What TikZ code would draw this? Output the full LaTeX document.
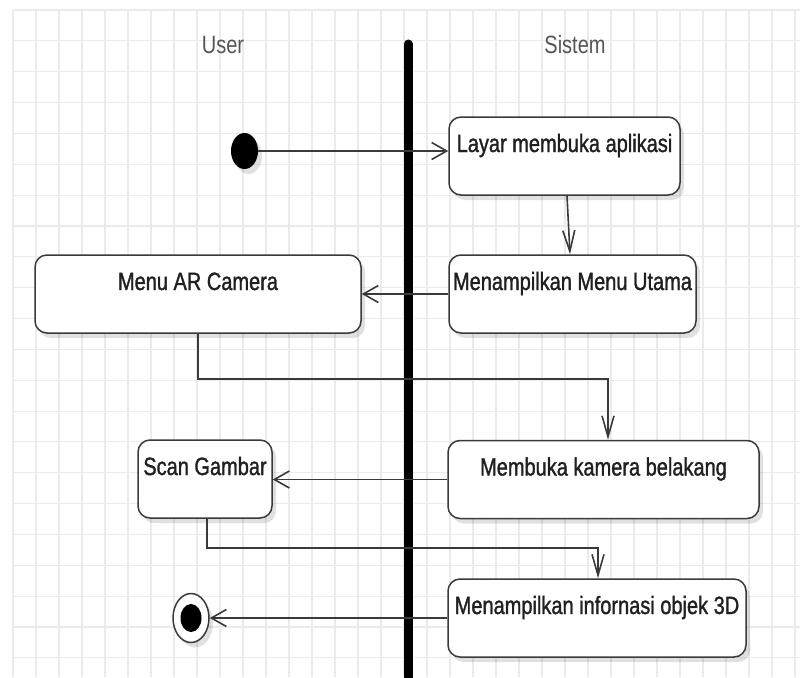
\documentclass[tikz,border=0pt]{standalone}
\usepackage{fontspec}
\setmainfont{Liberation Sans}[FakeStretch=0.8]
\newfontface\boxfont{Liberation Sans}[FakeStretch=0.8,FakeBold=1.2]
\usetikzlibrary{arrows.meta,shadows,calc,shapes.geometric}
\definecolor{gridc}{HTML}{EBEBEB}
\definecolor{linec}{HTML}{3A3A3A}
\definecolor{lanec}{HTML}{555555}
\definecolor{boxtext}{HTML}{202020}
\begin{document}
\begin{tikzpicture}[x=1pt,y=-1pt,
  actbox/.style={draw=linec, line width=1.5pt, fill=white, rounded corners=12pt,
    inner xsep=0pt, inner ysep=0pt, text height=35pt, text depth=43pt,
    font=\boxfont\fontsize{25}{30}\selectfont, text=boxtext,
    drop shadow={shadow xshift=4pt, shadow yshift=-5pt, opacity=0.12, fill=black}},
  lanelabel/.style={font=\fontsize{25}{30}\selectfont, text=lanec},
  flow/.style={draw=linec, line width=1.6pt},
  harrow/.style={flow, -{Straight Barb[length=15pt,width=17pt,line width=1.6pt]}},
  varrow/.style={flow, -{Straight Barb[length=21pt,width=12pt,line width=1.6pt]}},
  gridline/.style={draw=gridc, line width=1.1pt}
]
\useasboundingbox (0,0) rectangle (802,677);
\fill[white] (0,0) rectangle (802,677);
% grid
\foreach \k in {0,...,34} { \draw[gridline] ({13+23*\k},10) -- ({13+23*\k},677); }
\foreach \k in {0,...,21} { \draw[gridline] (13,{10+30.85*\k}) -- (800,{10+30.85*\k}); }

% swimlane labels and divider
\node[lanelabel] (user) at (223,45) {User};
\node[lanelabel] (sistem) at (575,45) {Sistem};
\coordinate (laneTop) at (408,44);
\coordinate (laneBot) at (408,677);
\draw[black, line width=9pt, line cap=round] (laneTop) -- (laneBot);

% activity boxes
\node[actbox, minimum width=231pt] (layar) at (564.5,156) {Layar membuka aplikasi};
\node[actbox, minimum width=247pt] (utama) at (572.5,294) {Menampilkan Menu Utama};
\node[actbox, minimum width=326pt] (ar) at (198,294) {Menu AR Camera};
\node[actbox, minimum width=311pt] (membuka) at (603.5,479.5) {Membuka kamera belakang};
\node[actbox, minimum width=134pt] (scan) at (205,479) {Scan Gambar};
\node[actbox, minimum width=298pt] (info) at (597,618) {Menampilkan infornasi objek 3D};

% start and end nodes
\node[ellipse, fill=black, minimum width=27pt, minimum height=36pt, inner sep=0pt,
  drop shadow={shadow xshift=4pt, shadow yshift=-5pt, opacity=0.12, fill=black}] (start) at (244.5,151) {};
\node[ellipse, draw=linec, line width=1.5pt, fill=white, minimum width=36pt, minimum height=49pt, inner sep=0pt,
  drop shadow={shadow xshift=4pt, shadow yshift=-5pt, opacity=0.12, fill=black}] (end) at (191,618) {};
\node[ellipse, fill=black, minimum width=21pt, minimum height=28pt, inner sep=0pt] (endin) at (end.center) {};

% connectors
\draw[harrow] (start.east) -- (start.east -| layar.west);
\draw[varrow] ($(layar.south)+(2.5,0)$) -- ($(utama.north)+(-2.5,0)$);
\draw[harrow] (utama.west) -- (utama.west -| ar.east);
\coordinate (k1) at (608,379);
\draw[varrow] (ar.south) |- (k1) -- (k1 |- membuka.north);
\draw[harrow] (membuka.west) -- (membuka.west -| scan.east);
\coordinate (k2) at (598,548);
\draw[varrow] ($(scan.south)+(2,0)$) |- (k2) -- (k2 |- info.north);
\draw[harrow] (info.west) -- (info.west -| end.east);
\end{tikzpicture}
\end{document}
